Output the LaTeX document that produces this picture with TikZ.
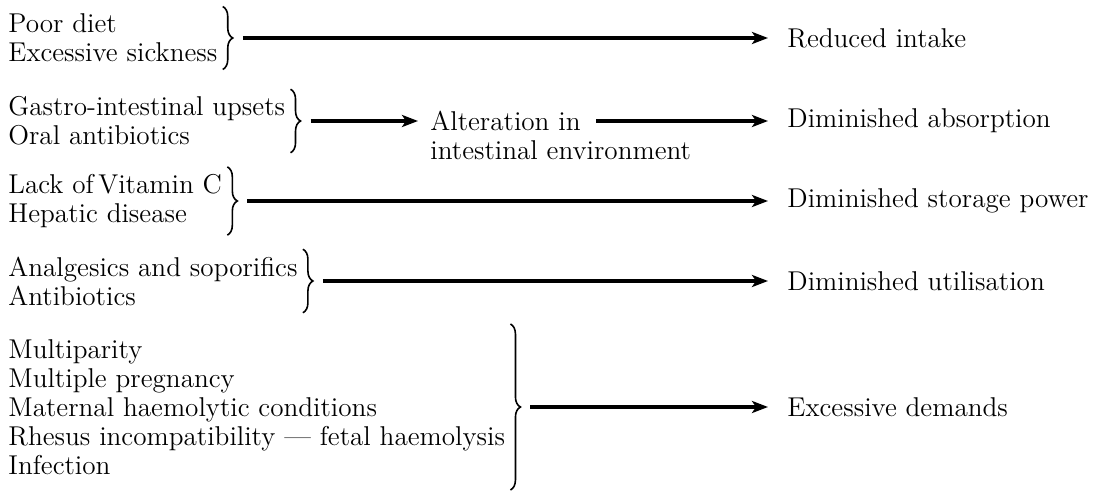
\documentclass[tikz,border=0pt]{standalone}
\usepackage{fontspec}
\usetikzlibrary{arrows.meta, positioning, calc, decorations.pathreplacing}

\begin{document}
\begin{tikzpicture}[
    x=0.5pt, y=-0.5pt,
    cause/.style={anchor=west, align=left, inner xsep=2.5pt, inner ysep=3.5pt, font=\fontsize{13.6}{14.5}\selectfont},
    effect/.style={anchor=west, inner sep=0pt, font=\fontsize{13.6}{14.5}\selectfont},
    brace/.style={decorate, decoration={brace, amplitude=5pt}, line width=0.8pt},
    arrow/.style={-{Stealth[length=8pt, width=6pt, inset=2pt]}, line width=1.6pt, shorten <=10pt, shorten >=9.5pt},
]
    \useasboundingbox (0,0) rectangle (1106,492);

    \node[cause] (diet) at (3,38) {Poor diet\\Excessive sickness};
    \node[cause] (gastro) at (3,121) {Gastro-intestinal upsets\\Oral antibiotics};
    \node[cause] (vitc) at (3,201) {Lack of\,Vitamin C\\Hepatic disease};
    \node[cause] (drugs) at (3,281) {Analgesics and soporifics\\Antibiotics};
    \node[cause, inner ysep=7.5pt] (preg) at (3,407) {Multiparity\\Multiple pregnancy\\Maternal haemolytic conditions\\Rhesus incompatibility — fetal haemolysis\\Infection};

    \node[effect] (intake) at (787,38) {Reduced intake};
    \node[effect] (alter) at (430,121) {Alteration in};
    \node[effect, anchor=base west] (envt) at ($(alter.base west)+(0,29)$) {intestinal environment};
    \node[effect] (absorb) at (787,121) {Diminished absorption};
    \node[effect] (store) at (787,201) {Diminished storage power};
    \node[effect] (util) at (787,281) {Diminished utilisation};
    \node[effect] (demand) at (787,407) {Excessive demands};

    \foreach \n in {diet, gastro, vitc, drugs, preg}
        \draw[brace] (\n.north east) -- (\n.south east);

    \draw[arrow] (diet) -- (intake);
    \draw[arrow, shorten >=6pt] (gastro) -- (alter);
    \draw[arrow, shorten <=7.5pt] (alter) -- (absorb);
    \draw[arrow] (vitc) -- (store);
    \draw[arrow] (drugs) -- (util);
    \draw[arrow] (preg) -- (demand);
\end{tikzpicture}
\end{document}
